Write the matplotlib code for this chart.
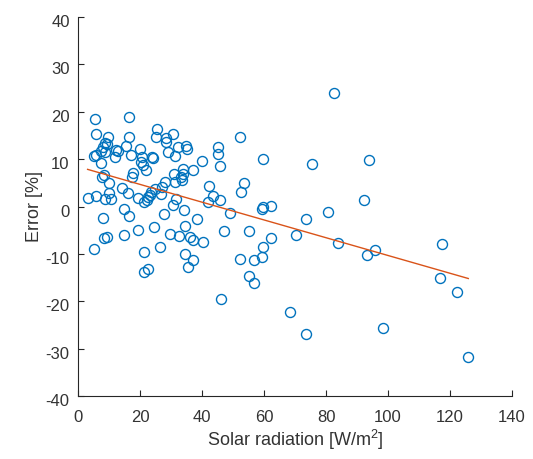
import matplotlib
matplotlib.use("Agg")
import matplotlib.pyplot as plt
import matplotlib.transforms as mtransforms
import numpy as np

plt.rcParams['font.family'] = ['Liberation Sans', 'DejaVu Sans']
plt.rcParams['mathtext.default'] = 'regular'
plt.rcParams['axes.unicode_minus'] = False

solar_radiation = [
    3.1, 5.2, 5.4, 5.9, 5.1, 5.8, 5.9, 7.4, 7.4, 8.0, 8.6, 9.7, 9.3, 7.7, 8.5,
    8.0, 8.5, 9.4, 8.8, 9.9, 10.1, 10.5, 8.8, 11.9, 12.3, 13.0, 14.1, 14.8, 14.8,
    15.4, 16.3, 16.5, 16.0, 16.5, 17.0, 17.6, 17.3, 19.2, 19.2, 20.1, 20.3, 20.6,
    20.9, 21.4, 22.0, 21.4, 21.4, 22.7, 22.2, 22.7, 23.1, 23.7, 23.8, 24.2, 24.4,
    24.7, 25.2, 25.5, 26.4, 26.8, 27.2, 27.7, 28.0, 28.5, 28.5, 28.9, 29.6, 30.5,
    30.7, 31.3, 31.0, 31.3, 31.5, 32.4, 32.6, 33.2, 33.5, 33.8, 34.0, 34.3, 34.6,
    34.6, 34.9, 35.1, 35.6, 36.2, 37.0, 37.1, 37.0, 38.4, 40.1, 40.3, 42.0, 42.3,
    43.4, 45.2, 45.2, 45.8, 45.9, 46.1, 47.2, 49.1, 52.2, 52.2, 52.7, 53.6, 55.2,
    55.2, 56.9, 56.9, 59.3, 59.8, 59.6, 59.8, 59.5, 62.3, 62.4, 68.3, 70.3, 73.6,
    73.6, 75.5, 80.7, 82.7, 84.0, 92.2, 93.1, 93.9, 95.9, 98.3, 116.7, 117.3,
    122.1, 125.9,
]
error_pct = [
    1.8, -9.0, 18.4, 15.3, 10.6, 10.9, 2.2, 9.2, 11.8, 12.5, 13.5, 14.6, 13.2, 6.2,
    6.6, -2.4, -6.6, -6.4, 1.5, 2.8, 5.0, 1.5, 11.4, 10.4, 12.0, 11.8, 3.9, -0.5,
    -6.1, 12.8, 18.8, 14.7, 2.9, -1.9, 10.8, 7.0, 6.3, 1.7, -5.0, 12.1, 9.3, 10.4,
    8.7, 0.9, 7.6, -9.7, -13.8, -13.1, 1.3, 2.0, 2.4, 3.0, 10.4, 10.2, -4.3, 3.6,
    14.7, 16.3, -8.5, 2.7, 4.1, -1.5, 5.2, 14.4, 13.7, 11.4, -5.9, 15.3, 0.4, 10.7,
    6.9, 5.1, 1.6, 12.5, -6.2, 6.2, 5.5, 7.9, 6.9, -0.7, -10.1, -4.1, 12.8, 12.2,
    -12.7, -6.4, 7.6, -7.1, -11.3, -2.7, 9.7, -7.5, 0.9, 4.3, 2.3, 12.5, 11.1, 8.6,
    1.4, -19.5, -5.2, -1.4, 14.6, -11.0, 3.0, 5.0, -5.2, -14.7, -11.3, -16.2, -0.5,
    -0.1, 10.0, -8.5, -10.6, 0.2, -6.6, -22.3, -6.1, -26.9, -2.7, 9.0, -1.2, 24.0,
    -7.7, 1.3, -10.3, 9.9, -9.2, -25.7, -15.0, -8.0, -18.1, -31.8,
]
fit_slope = -0.1876
fit_intercept = 8.42

x_ticks = [0, 20, 40, 60, 80, 100, 120, 140]
y_ticks = [-40, -30, -20, -10, 0, 10, 20, 30, 40]

fig = plt.figure(figsize=(5.33, 4.59), dpi=100)
ax = fig.add_axes([78 / 533, 1 - 396 / 459, 434 / 533, 379 / 459])

ax.plot(solar_radiation, error_pct, linestyle='none', marker='o',
        markersize=7.2, markerfacecolor='none', markeredgecolor='#0072BD',
        markeredgewidth=1.0)
xf = np.array([min(solar_radiation), max(solar_radiation)])
ax.plot(xf, fit_slope * xf + fit_intercept, color='#D95319', linewidth=1.0)

ax.set_xlim(0, 140)
ax.set_ylim(-40, 40)
ax.set_xticks(x_ticks)
ax.set_yticks(y_ticks)
ax.spines['top'].set_visible(False)
ax.spines['right'].set_visible(False)
for s in ('left', 'bottom'):
    ax.spines[s].set_color('#262626')
    ax.spines[s].set_linewidth(0.8)
ax.tick_params(direction='in', length=4, width=0.8, colors='#262626',
               labelsize=12, labelcolor='#333333')
ax.tick_params(axis='x', pad=10)
ax.tick_params(axis='y', pad=6)
offset = mtransforms.ScaledTranslation(0, -4 / 100, fig.dpi_scale_trans)
for lab in ax.get_yticklabels():
    lab.set_transform(lab.get_transform() + offset)
ax.set_xlabel('Solar radiation [W/m$^2$]', fontsize=13, color='#333333',
              labelpad=2)
ax.set_ylabel('Error [%]', fontsize=13, color='#333333', labelpad=2)

fig.savefig('out.png', dpi=100)
